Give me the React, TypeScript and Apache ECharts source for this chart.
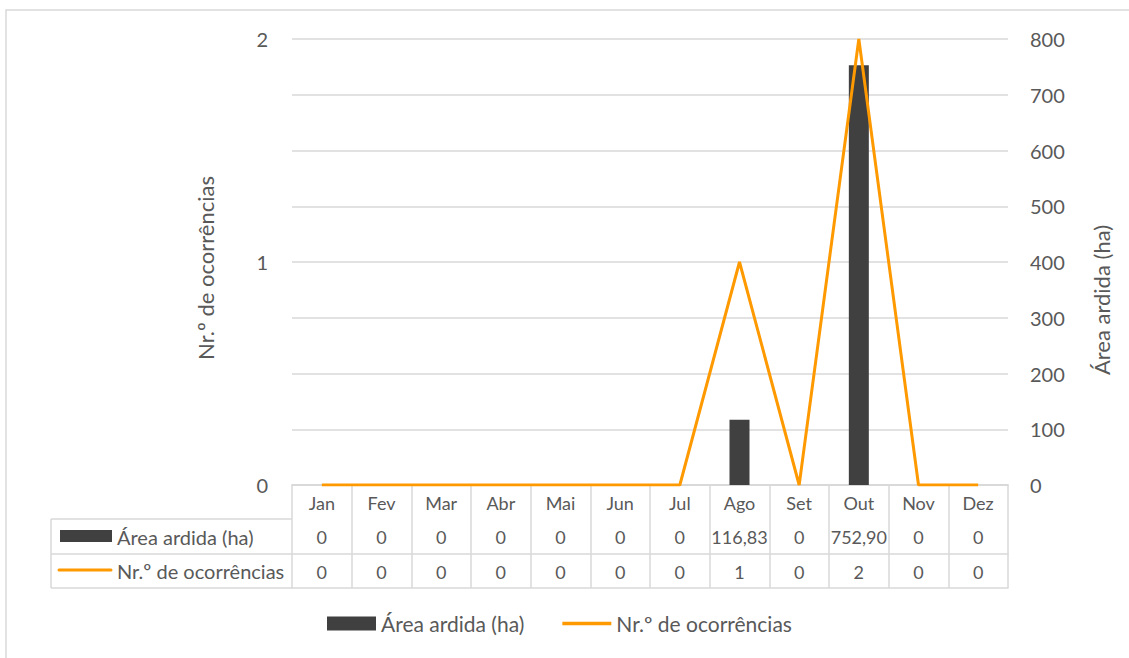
import React, { useEffect, useRef } from "react";
import * as echarts from "echarts";

const months = ["Jan", "Fev", "Mar", "Abr", "Mai", "Jun", "Jul", "Ago", "Set", "Out", "Nov", "Dez"];
const areaValues = [0, 0, 0, 0, 0, 0, 0, 116.83, 0, 752.9, 0, 0];
const countValues = [0, 0, 0, 0, 0, 0, 0, 1, 0, 2, 0, 0];
const areaName = "Área ardida (ha)";
const countName = "Nr.º de ocorrências";

const fmtArea = (v: number) => (v === 0 ? "0" : v.toFixed(2).replace(".", ","));

const FONT = "Lato";
const TXT = "#595959";
const GRID = "#d9d9d9";

export default function App() {
  const ref = useRef<HTMLDivElement>(null);
  useEffect(() => {
    document.body.style.margin = "0";
    const chart = echarts.init(ref.current!, null, { renderer: "svg" });
    const gridLeft = 292;
    const gridTop = 39;
    const gridW = 716;
    const gridH = 446;
    const base = gridTop + gridH;
    const rowH = [34, 69, 103];
    const tableLeft = 51;
    const catAxisCommon = {
      type: "category",
      gridIndex: 0,
      position: "bottom",
      axisLine: { show: true, lineStyle: { color: GRID, width: 1.5 } },
      axisTick: { show: false },
      axisLabel: { color: TXT, fontFamily: FONT, fontSize: 18, margin: 9, interval: 0 },
    };
    chart.setOption({
      animation: false,
      textStyle: { fontFamily: FONT },
      grid: { left: gridLeft, top: gridTop, width: gridW, height: gridH },
      xAxis: [
        {
          ...catAxisCommon,
          data: months,
          axisTick: { show: true, interval: 0, length: rowH[2], lineStyle: { color: GRID, width: 1.5 } },
        },
        { ...catAxisCommon, data: areaValues.map(fmtArea), offset: rowH[0] },
        { ...catAxisCommon, data: countValues.map((v) => String(v)), offset: rowH[1] },
        { ...catAxisCommon, data: months.map(() => ""), offset: rowH[2], axisLabel: { show: false } },
      ],
      yAxis: [
        {
          type: "value",
          min: 0,
          max: 2,
          interval: 0.25,
          name: countName,
          nameLocation: "middle",
          nameRotate: 90,
          nameGap: 76,
          nameTextStyle: { color: TXT, fontFamily: FONT, fontSize: 22, padding: [0, 12, 0, 0] },
          axisLine: { show: false },
          axisTick: { show: false },
          axisLabel: {
            color: TXT,
            fontFamily: FONT,
            fontSize: 20,
            margin: 24,
            formatter: (v: number) => (Number.isInteger(v) ? String(v) : ""),
          },
          splitLine: { show: true, lineStyle: { color: GRID, width: 1.5 } },
        },
        {
          type: "value",
          min: 0,
          max: 800,
          interval: 100,
          position: "right",
          name: areaName,
          nameLocation: "middle",
          nameRotate: 90,
          nameGap: 82,
          nameTextStyle: { color: TXT, fontFamily: FONT, fontSize: 22, padding: [0, 76, 0, 0] },
          axisLine: { show: false },
          axisTick: { show: false },
          axisLabel: { color: TXT, fontFamily: FONT, fontSize: 20, margin: 22 },
          splitLine: { show: false },
        },
      ],
      legend: {
        top: 608,
        left: 322,
        itemWidth: 49,
        itemHeight: 14,
        itemGap: 38,
        symbolKeepAspect: true,
        textStyle: { color: TXT, fontFamily: FONT, fontSize: 21 },
        data: [
          { name: areaName, icon: "rect" },
          { name: countName, icon: "path://M0,0 L50,0 L50,3.5 L0,3.5 Z" },
        ],
      },
      series: [
        {
          name: areaName,
          type: "bar",
          xAxisIndex: 0,
          yAxisIndex: 1,
          data: areaValues,
          barWidth: 20,
          itemStyle: { color: "#404040" },
          z: 2,
        },
        {
          name: countName,
          type: "line",
          xAxisIndex: 0,
          yAxisIndex: 0,
          data: countValues,
          symbol: "none",
          lineStyle: { color: "#FF9900", width: 3 },
          itemStyle: { color: "#FF9900" },
          z: 3,
        },
      ],
      graphic: [
        {
          type: "rect",
          shape: { x: 6, y: 10, width: 1300, height: 800 },
          style: { fill: "none", stroke: GRID, lineWidth: 1.5 },
          silent: true,
        },
        { type: "line", shape: { x1: tableLeft, y1: base + rowH[0], x2: gridLeft, y2: base + rowH[0] }, style: { stroke: GRID, lineWidth: 1.5 } },
        { type: "line", shape: { x1: tableLeft, y1: base + rowH[1], x2: gridLeft, y2: base + rowH[1] }, style: { stroke: GRID, lineWidth: 1.5 } },
        { type: "line", shape: { x1: tableLeft, y1: base + rowH[2], x2: gridLeft, y2: base + rowH[2] }, style: { stroke: GRID, lineWidth: 1.5 } },
        { type: "line", shape: { x1: tableLeft, y1: base + rowH[0], x2: tableLeft, y2: base + rowH[2] }, style: { stroke: GRID, lineWidth: 1.5 } },
        { type: "rect", shape: { x: 60, y: 530, width: 52, height: 12 }, style: { fill: "#404040" } },
        { type: "text", x: 117, y: base + (rowH[0] + rowH[1]) / 2, style: { text: areaName, fill: TXT, font: `20px ${FONT}`, verticalAlign: "middle" } },
        { type: "line", shape: { x1: 59, y1: 570, x2: 111, y2: 570 }, style: { stroke: "#FF9900", lineWidth: 3, lineCap: "round" } },
        { type: "text", x: 117, y: base + (rowH[1] + rowH[2]) / 2, style: { text: countName, fill: TXT, font: `20px ${FONT}`, verticalAlign: "middle" } },
      ],
    });
    return () => chart.dispose();
  }, []);
  return <div ref={ref} style={{ width: 1129, height: 658 }} />;
}
